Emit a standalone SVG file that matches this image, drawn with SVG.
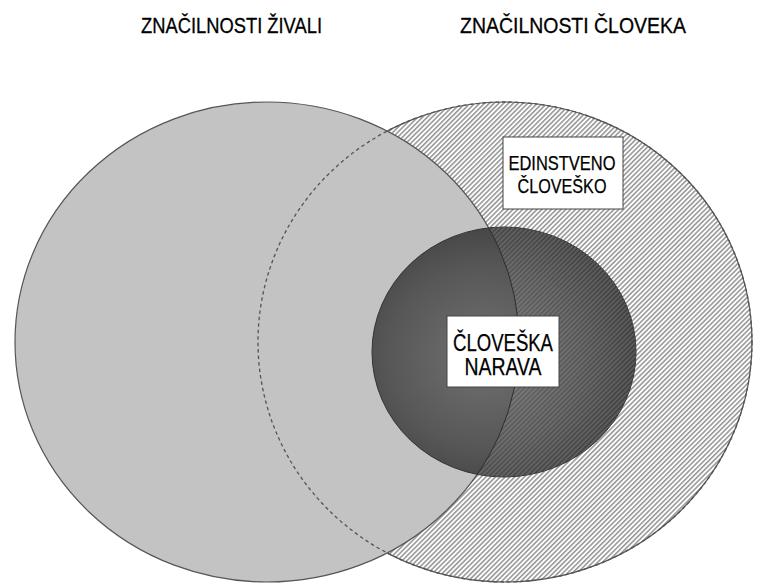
<svg xmlns="http://www.w3.org/2000/svg" width="757" height="583" viewBox="0 0 757 583">
<style>
.title{font-family:"Liberation Sans","Arial",sans-serif;font-size:22px;fill:#000;stroke:#000;stroke-width:0.3;}
.lbl{font-family:"Liberation Sans","Arial",sans-serif;fill:#000;stroke:#000;stroke-width:0.25;text-anchor:middle;}
.box{fill:#fff;stroke:#444;stroke-width:1;}
</style>
<defs>
<pattern id="hatch" patternUnits="userSpaceOnUse" width="3.4" height="3.4" patternTransform="rotate(45)">
<rect width="3.4" height="3.4" fill="#fff"/>
<line x1="0.8" y1="0" x2="0.8" y2="3.4" stroke="#929292" stroke-width="1.5"/>
</pattern>
<pattern id="hatchDark" patternUnits="userSpaceOnUse" width="3.4" height="3.4" patternTransform="rotate(45)">
<line x1="0.8" y1="0" x2="0.8" y2="3.4" stroke="#fff" stroke-opacity="0.16" stroke-width="1.4"/>
</pattern>
<radialGradient id="dark" cx="0.42" cy="0.52" r="0.6">
<stop offset="0" stop-color="#717171"/>
<stop offset="0.6" stop-color="#575757"/>
<stop offset="1" stop-color="#3e3e3e"/>
</radialGradient>
<mask id="outsideLeft">
<rect width="757" height="583" fill="#fff"/>
<ellipse cx="267" cy="342" rx="252" ry="240" fill="#000"/>
</mask>
<clipPath id="innerClip">
<ellipse cx="504" cy="352" rx="132" ry="125"/>
</clipPath>
</defs>

<g id="title-animal"><text class="title" x="141" y="33" textLength="181" lengthAdjust="spacingAndGlyphs">ZNAČILNOSTI ŽIVALI</text></g>
<g id="title-human"><text class="title" x="460" y="33" textLength="226" lengthAdjust="spacingAndGlyphs">ZNAČILNOSTI ČLOVEKA</text></g>

<g id="human-traits">
<ellipse cx="505" cy="342" rx="247" ry="240" fill="url(#hatch)" stroke="#555" stroke-width="1.2"/>
</g>
<g id="animal-traits">
<ellipse cx="267" cy="342" rx="252" ry="240" fill="#c3c3c3" stroke="#555" stroke-width="1.2"/>
</g>
<g id="human-traits-outline">
<ellipse cx="505" cy="342" rx="247" ry="240" fill="none" stroke="#555" stroke-width="1.3" stroke-dasharray="3.5 3"/>
</g>

<g id="human-nature">
<ellipse cx="504" cy="352" rx="132" ry="125" fill="url(#dark)" stroke="#333" stroke-width="1"/>
<ellipse cx="504" cy="352" rx="132" ry="125" fill="url(#hatchDark)" mask="url(#outsideLeft)"/>
<ellipse cx="267" cy="342" rx="252" ry="240" fill="none" stroke="#2e2e2e" stroke-width="1" clip-path="url(#innerClip)"/>
<rect class="box" x="447" y="316" width="112" height="71"/>
<text class="lbl" x="503" y="351" font-size="23" textLength="100" lengthAdjust="spacingAndGlyphs">ČLOVEŠKA</text>
<text class="lbl" x="503" y="375" font-size="23" textLength="77" lengthAdjust="spacingAndGlyphs">NARAVA</text>
</g>

<g id="unique-human">
<rect class="box" x="503" y="137" width="120" height="72"/>
<text class="lbl" x="562" y="170" font-size="20" textLength="107" lengthAdjust="spacingAndGlyphs">EDINSTVENO</text>
<text class="lbl" x="562" y="193" font-size="20" textLength="89" lengthAdjust="spacingAndGlyphs">ČLOVEŠKO</text>
</g>
</svg>
